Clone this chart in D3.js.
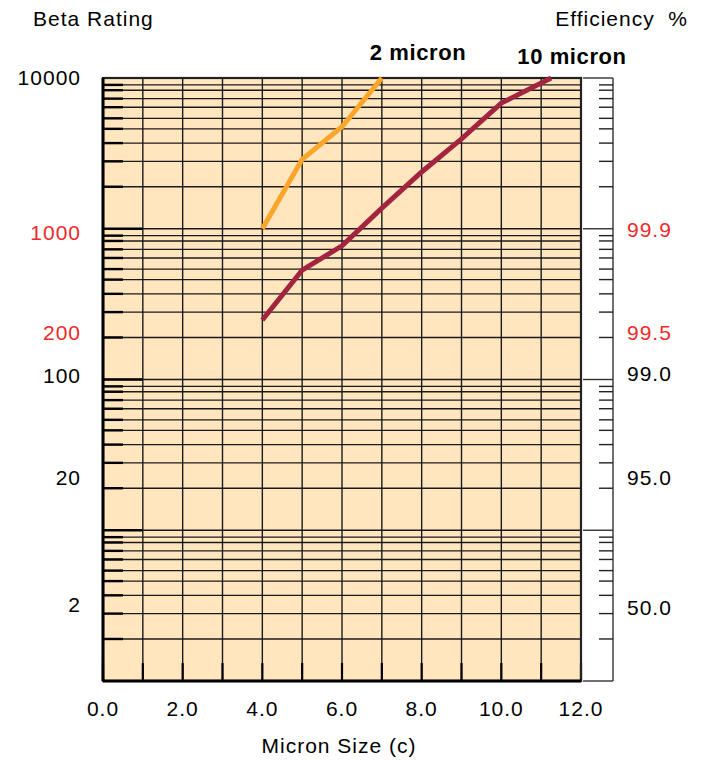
<!DOCTYPE html>
<html>
<head>
<meta charset="utf-8">
<script src="https://cdn.jsdelivr.net/npm/d3@7"></script>
<style>
  body { margin: 0; background: #fff; }
  text { font-family: "Liberation Sans", Arial, sans-serif; font-size: 21px; letter-spacing: 1px; }
</style>
</head>
<body>
<div id="chart"></div>
<script>
const width = 702;
const height = 761;
const margin = { top: 78, right: 121, bottom: 80, left: 103 };

// series
const sizes2 = [4, 5, 6, 7];
const beta2 = [1000, 2890, 4750, 10000];
const sizes10 = [4, 5, 6, 7, 8, 9, 10, 11.25];
const beta10 = [248, 532, 770, 1370, 2380, 3940, 6820, 10000];

// x ticks
const xGrid = d3.range(0, 13, 1);
const xLabels = [0, 2, 4, 6, 8, 10, 12];

// the grid inside each decade is not a true log grid, mantissas read off the picture
const decades = [1, 10, 100, 1000];
const gridMantissas = [9, 8.3, 7.3, 6.4, 5.4, 4.6, 3.7, 2.8, 1.9];

// axis labels and the beta value each one sits at
const betaLabels = ["10000", "1000", "200", "100", "20", "2"];
const betaLabelAt = [10000, 940, 204, 106, 22.5, 3.2];
const effLabels = ["99.9", "99.5", "99.0", "95.0", "50.0"];
const effLabelAt = [980, 203, 110, 22.5, 3.05];

const redLabels = new Set(["1000", "200", "99.9", "99.5"]);

const svg = d3.select("#chart")
  .append("svg")
  .attr("width", width)
  .attr("height", height);

const x = d3.scaleLinear()
  .domain([0, 12])
  .range([margin.left, width - margin.right]);

const y = d3.scaleLog()
  .domain([1, 10000])
  .range([height - margin.bottom, margin.top]);

const x0 = x(0), x1 = x(12);
const yTop = y(10000), yBot = y(1);

// plot background
svg.append("rect")
  .attr("x", x0).attr("y", yTop)
  .attr("width", x1 - x0).attr("height", yBot - yTop)
  .attr("fill", "#FFE6BE");

const minor = [];
decades.forEach(d => gridMantissas.forEach(m => minor.push(d * m)));
const major = [10, 100, 1000];

// horizontal grid
svg.append("g").selectAll("line")
  .data(minor.concat(major))
  .enter().append("line")
  .attr("x1", x0).attr("x2", x1)
  .attr("y1", d => y(d)).attr("y2", d => y(d))
  .attr("stroke", "#1a1a1a")
  .attr("stroke-width", 1.4);

// left stubs
svg.append("g").selectAll("line")
  .data(minor.concat(major))
  .enter().append("line")
  .attr("x1", x0).attr("x2", d => major.includes(d) ? x(1) : x0 + 20)
  .attr("y1", d => y(d)).attr("y2", d => y(d))
  .attr("stroke", "#000")
  .attr("stroke-width", 2.4);

// vertical grid
svg.append("g").selectAll("line")
  .data(xGrid)
  .enter().append("line")
  .attr("x1", d => x(d)).attr("x2", d => x(d))
  .attr("y1", yTop).attr("y2", yBot)
  .attr("stroke", "#1a1a1a")
  .attr("stroke-width", 1.4);

// bottom ticks
svg.append("g").selectAll("line")
  .data(xGrid)
  .enter().append("line")
  .attr("x1", d => x(d)).attr("x2", d => x(d))
  .attr("y1", yBot - 18).attr("y2", yBot)
  .attr("stroke", "#000")
  .attr("stroke-width", 2.2);

// frame
svg.append("rect")
  .attr("x", x0).attr("y", yTop)
  .attr("width", x1 - x0).attr("height", yBot - yTop)
  .attr("fill", "none")
  .attr("stroke", "#222")
  .attr("stroke-width", 2.2);
svg.append("line")
  .attr("x1", x0).attr("x2", x1)
  .attr("y1", yBot).attr("y2", yBot)
  .attr("stroke", "#000").attr("stroke-width", 3);
svg.append("line")
  .attr("x1", x0).attr("x2", x0)
  .attr("y1", yTop).attr("y2", yBot)
  .attr("stroke", "#000").attr("stroke-width", 3);

// right efficiency axis
const rx = x1 + 32;
svg.append("line")
  .attr("x1", rx).attr("x2", rx)
  .attr("y1", yTop).attr("y2", yBot)
  .attr("stroke", "#333").attr("stroke-width", 1.4);
svg.append("g").selectAll("line")
  .data(minor)
  .enter().append("line")
  .attr("x1", rx - 14).attr("x2", rx)
  .attr("y1", d => y(d)).attr("y2", d => y(d))
  .attr("stroke", "#222").attr("stroke-width", 1.4);
svg.append("g").selectAll("line")
  .data([1, 10, 100, 1000, 10000])
  .enter().append("line")
  .attr("x1", x1 + 2).attr("x2", rx)
  .attr("y1", d => y(d)).attr("y2", d => y(d))
  .attr("stroke", "#333").attr("stroke-width", 1.4);

// lines
const line = d3.line()
  .x(d => x(d[0]))
  .y(d => y(d[1]));

svg.append("path")
  .datum(d3.zip(sizes10, beta10))
  .attr("d", line)
  .attr("fill", "none")
  .attr("stroke", "#A3243F")
  .attr("stroke-width", 5);

svg.append("path")
  .datum(d3.zip(sizes2, beta2))
  .attr("d", line)
  .attr("fill", "none")
  .attr("stroke", "#FBA62A")
  .attr("stroke-width", 5);

// series labels
svg.append("text")
  .attr("x", 418).attr("y", 60)
  .attr("text-anchor", "middle")
  .style("font-size", "22px").style("letter-spacing", "0.6px")
  .attr("font-weight", "bold")
  .text("2 micron");
svg.append("text")
  .attr("x", 572).attr("y", 64)
  .attr("text-anchor", "middle")
  .style("font-size", "22px").style("letter-spacing", "0.6px")
  .attr("font-weight", "bold")
  .text("10 micron");

// left labels
svg.append("g").selectAll("text")
  .data(d3.zip(betaLabels, betaLabelAt))
  .enter().append("text")
  .attr("x", 81)
  .attr("y", d => y(d[1]))
  .attr("dy", "0.35em")
  .attr("text-anchor", "end")
  .attr("fill", d => redLabels.has(d[0]) ? "#EE2A2A" : "#000")
  .text(d => d[0]);

// right labels
svg.append("g").selectAll("text")
  .data(d3.zip(effLabels, effLabelAt))
  .enter().append("text")
  .attr("x", 627)
  .attr("y", d => y(d[1]))
  .attr("dy", "0.35em")
  .attr("fill", d => redLabels.has(d[0]) ? "#EE2A2A" : "#000")
  .text(d => d[0]);

// x tick labels
svg.append("g").selectAll("text")
  .data(xLabels)
  .enter().append("text")
  .attr("x", d => x(d))
  .attr("y", 709)
  .attr("dy", "0.35em")
  .attr("text-anchor", "middle")
  .text(d => d.toFixed(1));

// axis titles
svg.append("text")
  .attr("x", 339).attr("y", 753)
  .attr("text-anchor", "middle")
  .text("Micron Size (c)");

svg.append("text")
  .attr("x", 33).attr("y", 26)
  .text("Beta Rating");

svg.append("text")
  .attr("x", 688).attr("y", 26)
  .attr("text-anchor", "end")
  .style("white-space", "pre")
  .text("Efficiency  %");
</script>
</body>
</html>
